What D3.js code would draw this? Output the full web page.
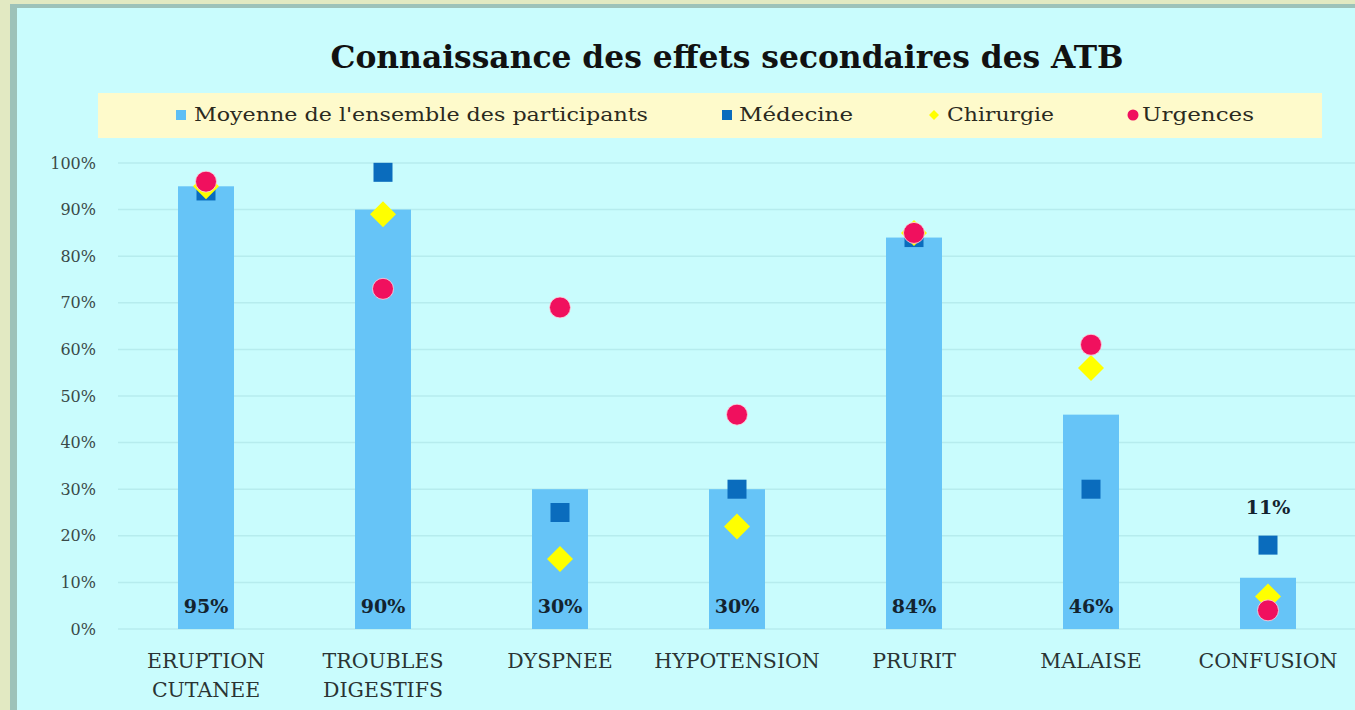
<!DOCTYPE html>
<html><head><meta charset="utf-8">
<script src="https://cdn.jsdelivr.net/npm/d3@7/dist/d3.min.js"></script>
<style>html,body{margin:0;padding:0;background:#e2e9c2;overflow:hidden}</style>
</head><body>
<svg id="c" width="1355" height="710"></svg>
<script>
const categories = [["ERUPTION","CUTANEE"],["TROUBLES","DIGESTIFS"],["DYSPNEE"],["HYPOTENSION"],["PRURIT"],["MALAISE"],["CONFUSION"]];
const moyenne   = [95, 90, 30, 30, 84, 46, 11];
const medecine  = [94, 98, 25, 30, 84, 30, 18];
const chirurgie = [95, 89, 15, 22, 85, 56, 7];
const urgences  = [96, 73, 69, 46, 85, 61, 4];
const yTicks = [0,10,20,30,40,50,60,70,80,90,100];
const seriesNames = ["Moyenne de l'ensemble des participants","Médecine","Chirurgie","Urgences"];
const title = "Connaissance des effets secondaires des ATB";

const serif = "'Palatino Linotype','Book Antiqua',Palatino,'DejaVu Serif',serif";
const svg = d3.select("#c");
// frame
svg.append("rect").attr("x",0).attr("y",0).attr("width",1355).attr("height",710).attr("fill","#e2e9c2");
svg.append("rect").attr("x",10).attr("y",4).attr("width",1345).attr("height",706).attr("fill","#9dc2b9");
svg.append("rect").attr("x",17).attr("y",8).attr("width",1338).attr("height",702).attr("fill","#c9fcfd");

const idx = d3.range(categories.length);
const x = d3.scaleBand().domain(idx).range([117.5,1356.5]).paddingInner(0.69).paddingOuter(0.345);
const y = d3.scaleLinear().domain([0,100]).range([629,163]);

// gridlines
svg.append("g").selectAll("line").data(yTicks).join("line")
  .attr("x1",118).attr("x2",1355).attr("y1",d=>y(d)).attr("y2",d=>y(d))
  .attr("stroke","#b6ecee").attr("stroke-width",1.5);

// y axis
const yAxis = d3.axisLeft(y).tickValues(yTicks).tickFormat(d=>d+"%").tickSize(0).tickPadding(0);
const ya = svg.append("g").attr("transform","translate(96,0)").call(yAxis);
ya.select(".domain").remove();
ya.selectAll("text").attr("font-family",serif).attr("font-size",16).attr("fill","#3a4a48");

// bars
const bw = 56;
const cx = i => x(i) + x.bandwidth()/2;
svg.append("g").selectAll("rect").data(moyenne).join("rect")
  .attr("x",(d,i)=>cx(i)-bw/2).attr("width",bw)
  .attr("y",d=>y(d)).attr("height",d=>y(0)-y(d)).attr("fill","#66c4f7");

// bar labels
svg.append("g").selectAll("text").data(moyenne).join("text")
  .attr("x",(d,i)=>cx(i)).attr("y",(d,i)=> i===6 ? y(d)-64 : 613)
  .attr("text-anchor","middle").attr("font-family",serif).attr("font-weight","bold")
  .attr("font-size",19).attr("fill","#13232f").text(d=>d+"%");

// medecine squares
const sq = 19;
svg.append("g").selectAll("rect").data(medecine).join("rect")
  .attr("x",(d,i)=>cx(i)-sq/2).attr("y",d=>y(d)-sq/2).attr("width",sq).attr("height",sq)
  .attr("fill","#0a6cbd");
// chirurgie diamonds
svg.append("g").selectAll("path").data(chirurgie).join("path")
  .attr("transform",(d,i)=>`translate(${cx(i)},${y(d)})`)
  .attr("d","M0,-13L13,0L0,13L-13,0Z").attr("fill","#ffff00");
// urgences circles
svg.append("g").selectAll("circle").data(urgences).join("circle")
  .attr("cx",(d,i)=>cx(i)).attr("cy",d=>y(d)).attr("r",10.5)
  .attr("fill","#f0105e").attr("stroke","#ffd5e0").attr("stroke-width",0.8);

// x labels
const xl = svg.append("g").selectAll("text").data(categories).join("text")
  .attr("x",(d,i)=>cx(i)).attr("y",668).attr("text-anchor","middle")
  .attr("font-family",serif).attr("font-size",20.5).attr("fill","#2a3433");
xl.selectAll("tspan").data(d=>d).join("tspan")
  .attr("x",function(){return d3.select(this.parentNode).attr("x");})
  .attr("dy",(d,j)=>j===0?0:29).text(d=>d);

// title
svg.append("text").attr("x",727).attr("y",68).attr("text-anchor","middle")
  .attr("font-family",serif).attr("font-weight","bold").attr("font-size",31)
  .attr("fill","#111").attr("textLength",793).attr("lengthAdjust","spacingAndGlyphs").text(title);

// legend
svg.append("rect").attr("x",98).attr("y",93).attr("width",1224).attr("height",45).attr("fill","#fefacb");
const leg = [
  {m:"sq",c:"#5ebff5",mx:181,tx:194,tw:454},
  {m:"sq",c:"#0a6cbd",mx:727,tx:739,tw:114},
  {m:"di",c:"#ffff00",mx:934,tx:947,tw:107},
  {m:"ci",c:"#f0105e",mx:1133,tx:1142,tw:112}
];
const lg = svg.append("g").selectAll("g").data(leg).join("g");
lg.each(function(d,i){
  const g = d3.select(this);
  if(d.m==="sq") g.append("rect").attr("x",d.mx-5).attr("y",110).attr("width",10).attr("height",10).attr("fill",d.c);
  else if(d.m==="di") g.append("path").attr("transform",`translate(${d.mx},115)`).attr("d","M0,-5L5,0L0,5L-5,0Z").attr("fill",d.c);
  else g.append("circle").attr("cx",d.mx).attr("cy",115).attr("r",5.5).attr("fill",d.c);
  g.append("text").attr("x",d.tx).attr("y",121).attr("font-family",serif).attr("font-size",19)
   .attr("fill","#2b2a20").attr("textLength",d.tw).attr("lengthAdjust","spacingAndGlyphs").text(seriesNames[i]);
});
</script>
</body></html>
